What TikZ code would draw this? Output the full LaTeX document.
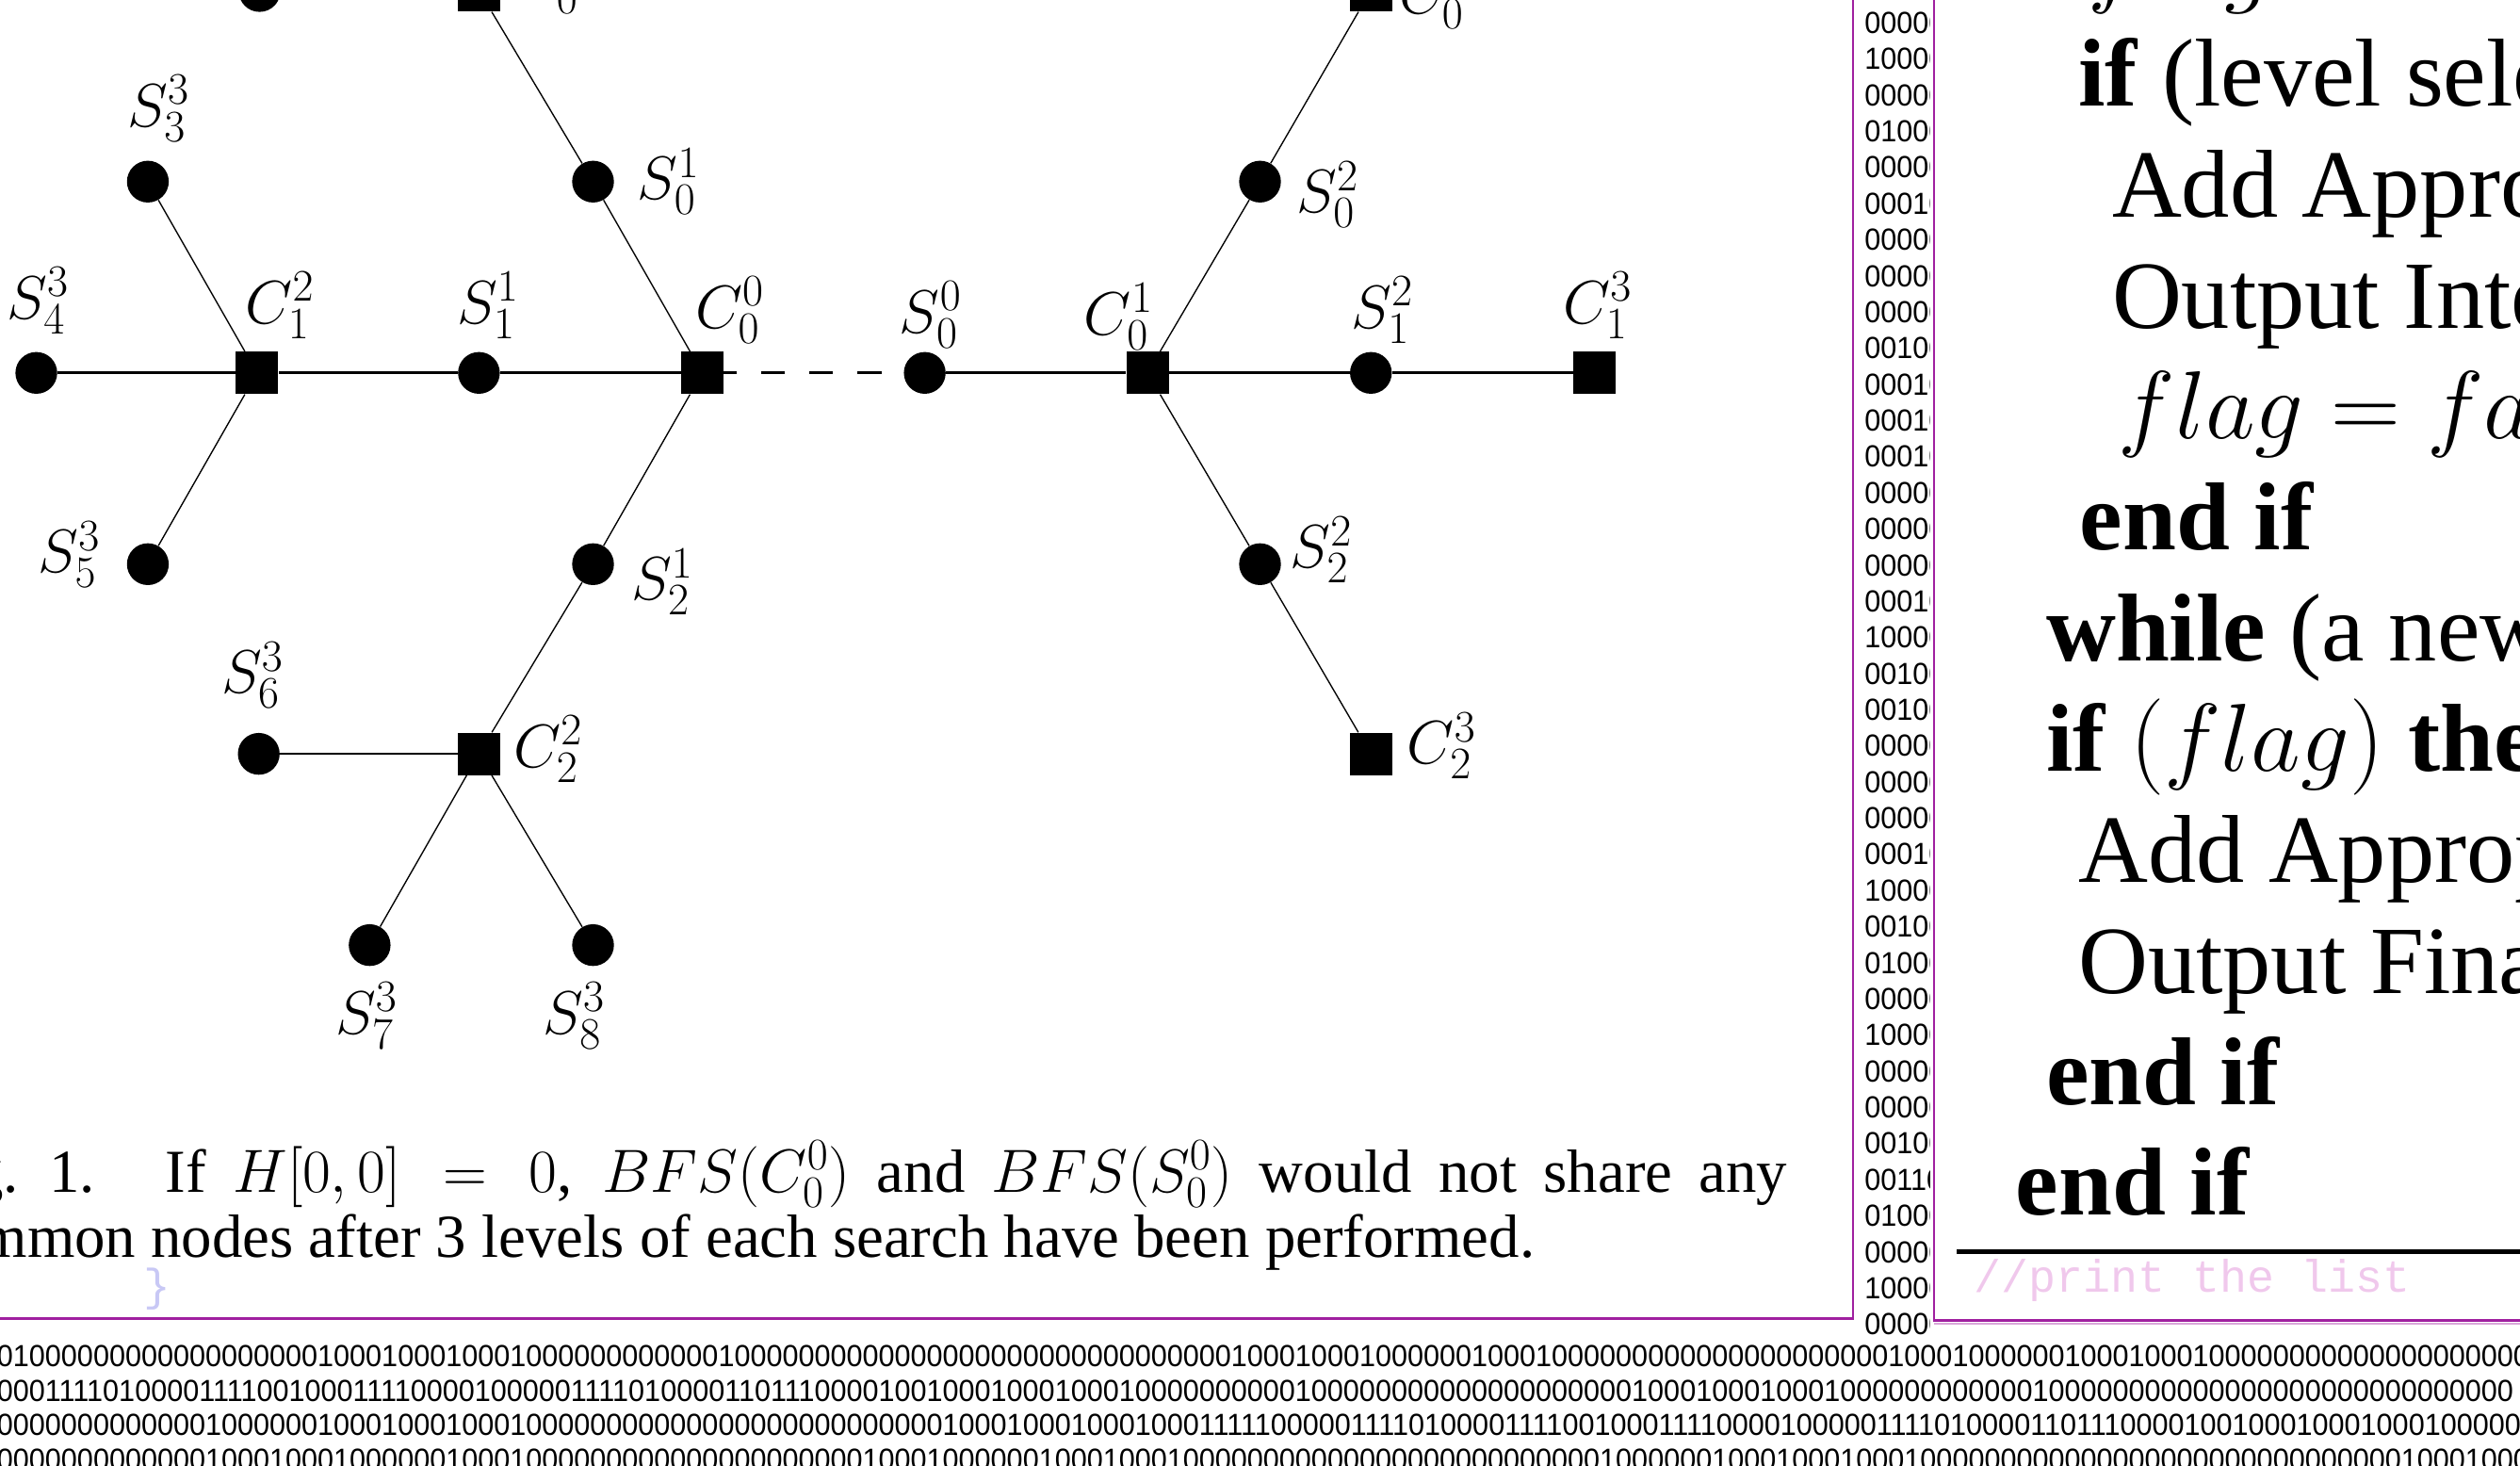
\documentclass[tikz,border=0pt]{standalone}
\usepackage{fix-cm}
\usepackage[no-math]{fontspec}
\setmainfont{Liberation Serif}
\newfontfamily\digitfont[FakeStretch=0.944]{Liberation Sans}
\newfontfamily\codefont{Liberation Mono}
\DeclareMathSizes{38}{38}{28}{20}
\definecolor{framepurple}{RGB}{160,32,160}
\definecolor{printcol}{RGB}{240,200,236}
\definecolor{bracecol}{RGB}{200,200,245}
\begin{document}
\begin{tikzpicture}[x=1pt,y=-1pt,
  snode/.style={circle, fill=black, inner sep=0pt, minimum size=26pt},
  cnode/.style={rectangle, fill=black, inner sep=0pt, minimum size=26.4pt},
  lbl/.style={inner sep=0pt, font=\fontsize{38}{44}\selectfont},
  hedge/.style={line width=1.6pt},
  dedge/.style={line width=0.8pt},
  gapedge/.style={line width=1.6pt, dash pattern=on 15pt off 15pt, dash phase=7pt},
  rp/.style={anchor=base west, inner sep=0pt, font=\fontsize{60}{70}\selectfont},
  captxt/.style={anchor=base west, inner sep=0pt, font=\fontsize{38}{45}\selectfont},
  coldig/.style={anchor=base west, inner sep=0pt, font=\digitfont\fontsize{19}{22}\selectfont},
  frameline/.style={draw=framepurple, line width=1.2pt},
]
\useasboundingbox (0,0) rectangle (1568,912);

% ---------------- tree nodes
\node[snode] (tlS) at (161.5,-5.6) {};
\node[cnode] (tlC) at (298,-6) {};
\node[cnode] (trC) at (853,-6) {};
\node[snode] (S33) at (92,113) {};
\node[snode] (S01) at (369,113) {};
\node[snode] (S02) at (784,113) {};
\node[snode] (S43) at (22.6,232) {};
\node[cnode] (C12) at (160,232) {};
\node[snode] (S11) at (298,232) {};
\node[cnode] (C00) at (437,232) {};
\node[snode] (S00) at (575.4,232) {};
\node[cnode] (C01) at (714,232) {};
\node[snode] (S12) at (853,232) {};
\node[cnode] (C13) at (992,232) {};
\node[snode] (S53) at (92,351) {};
\node[snode] (S21) at (369,351) {};
\node[snode] (S22) at (784,351) {};
\node[snode] (S63) at (161,469) {};
\node[cnode] (C22) at (298,469) {};
\node[cnode] (C23) at (853,469) {};
\node[snode] (S73) at (230,588) {};
\node[snode] (S83) at (369,588) {};

% ---------------- edges
\draw[hedge] (S43) -- (C12);
\draw[hedge] (C12) -- (S11);
\draw[hedge] (S11) -- (C00);
\draw[gapedge] (C00) -- (S00);
\draw[hedge] (S00) -- (C01);
\draw[hedge] (C01) -- (S12);
\draw[hedge] (S12) -- (C13);
\draw[hedge] (S63) -- (C22);
\draw[dedge] (C12) -- (S33);
\draw[dedge] (C12) -- (S53);
\draw[dedge] (C00) -- (S01);
\draw[dedge] (S01) -- (tlC);
\draw[dedge] (C00) -- (S21);
\draw[dedge] (S21) -- (C22);
\draw[dedge] (C22) -- (S73);
\draw[dedge] (C22) -- (S83);
\draw[dedge] (C01) -- (S02);
\draw[dedge] (S02) -- (trC);
\draw[dedge] (C01) -- (S22);
\draw[dedge] (S22) -- (C23);

% ---------------- labels
\node[lbl] (ltlC) at (341,-12) {$C_0^2$};
\node[lbl] (ltrC) at (892,-3) {$C_0^3$};
\node[lbl] (lS33) at (98.5,67.5) {$S_3^3$};
\node[lbl] (lS01) at (416,113) {$S_0^1$};
\node[lbl] (lS02) at (826,121) {$S_0^2$};
\node[lbl] (lS43) at (23.5,187) {$S_4^3$};
\node[lbl] (lC12) at (174,190) {$C_1^2$};
\node[lbl] (lS11) at (303.6,190) {$S_1^1$};
\node[lbl] (lC00) at (454,193) {$C_0^0$};
\node[lbl] (lS00) at (579,196) {$S_0^0$};
\node[lbl] (lC01) at (696,197) {$C_0^1$};
\node[lbl] (lS12) at (860,193) {$S_1^2$};
\node[lbl] (lC13) at (994,190) {$C_1^3$};
\node[lbl] (lS53) at (43,345) {$S_5^3$};
\node[lbl] (lS21) at (412,362) {$S_2^1$};
\node[lbl] (lS22) at (822,342) {$S_2^2$};
\node[lbl] (lS63) at (157,420) {$S_6^3$};
\node[lbl] (lC22) at (341,466) {$C_2^2$};
\node[lbl] (lC23) at (897,464) {$C_2^3$};
\node[lbl] (lS73) at (228,632) {$S_7^3$};
\node[lbl] (lS83) at (357,632) {$S_8^3$};

% ---------------- caption
\node[captxt] (cap1) at (-48.6,741.5) {\hbox to 1160.6pt{Fig.\kern 18.8pt 1.\kern 44pt If $H[0,0] = 0$, $BFS(C_0^0)$ and $BFS(S_0^0)$ would not share any}};
\node[captxt] (cap2) at (-48.6,782.5) {common nodes after 3 levels of each search have been performed.};
\node[inner sep=0pt, font=\codefont\fontsize{28}{30}\selectfont, text=bracecol] (brace) at (98,802) {\}};

% ---------------- frame lines
\draw[framepurple, line width=1.8pt] (0,820.6) -- (1153,820.6);
\draw[frameline] (1153,0) -- (1153,821.4);
\draw[frameline] (1203.5,0) -- (1203.5,821.5) -- (1568,821.5);
\draw[framepurple!40, line width=0.8pt] (1203.5,823.6) -- (1568,823.6);

% ---------------- column of digits
\begin{scope}
\clip (1154,0) rectangle (1201,912);
\foreach \d [count=\i from 0] in {0000,1000,0000,0100,0000,0001,0000,0000,0000,0010,0001,0001,0001,0000,0000,0000,0001,1000,0010,0010,0000,0000,0000,0001,1000,0010,0100,0000,1000,0000,0000,0010,0011,0100,0000,1000,0000}{
  \node[coldig] (col\i) at (1160,{20.8+22.49*\i}) {\d0};
}
\end{scope}

% ---------------- bottom rows of digits
\node[coldig] (row1) at (-2,850.3) {0100000000000000000010001000100010000000000001000000000000000000000000000000010001000100000010001000000000000000000000100010000001000100010000000000000000000000};
\node[coldig] (row2) at (-2,871.8) {000111101000011110010001111000010000011110100001101110000100100010001000100000000001000000000000000000001000100010001000000000000100000000000000000000000000000};
\node[coldig] (row3) at (-2,893.3) {0000000000000100000010001000100010000000000000000000000000010001000100010001111100000111101000011110010001111000010000011110100001101110000100100010001000100000};
\node[coldig] (row4) at (-2,914.8) {0000000000000100010001000000100010000000000000000000001000100000010001000100000000000000000000000000100000010001000100010000000000000000000000000000001000100010001000};

% ---------------- right panel
\node[rp] (r0) at (1299,-3) {$flag$};
\node[rp] (r1) at (1293,66) {\textbf{if} (level sele};
\node[rp] (r2) at (1314,135) {Add Appro};
\node[rp] (r3) at (1314,204) {Output Inte};
\node[rp] (r4) at (1318,273) {$flag = fa$};
\node[rp] (r5) at (1294,342) {\textbf{end if}};
\node[rp] (r6) at (1273,411) {\textbf{while} (a new};
\node[rp] (r7) at (1273,480) {\textbf{if} $(flag)$ \textbf{the}};
\node[rp] (r8) at (1293,549) {Add Approp};
\node[rp] (r9) at (1293,618) {Output Fina};
\node[rp] (r10) at (1273,687) {\textbf{end if}};
\node[rp] (r11) at (1254,756) {\textbf{end if}};
\draw[line width=3.2pt] (1217.5,778.6) -- (1568,778.6);
\node[anchor=base west, inner sep=0pt, font=\codefont\fontsize{28.3}{30}\selectfont, text=printcol] (cmt) at (1228,804) {//print the list};
\end{tikzpicture}
\end{document}
